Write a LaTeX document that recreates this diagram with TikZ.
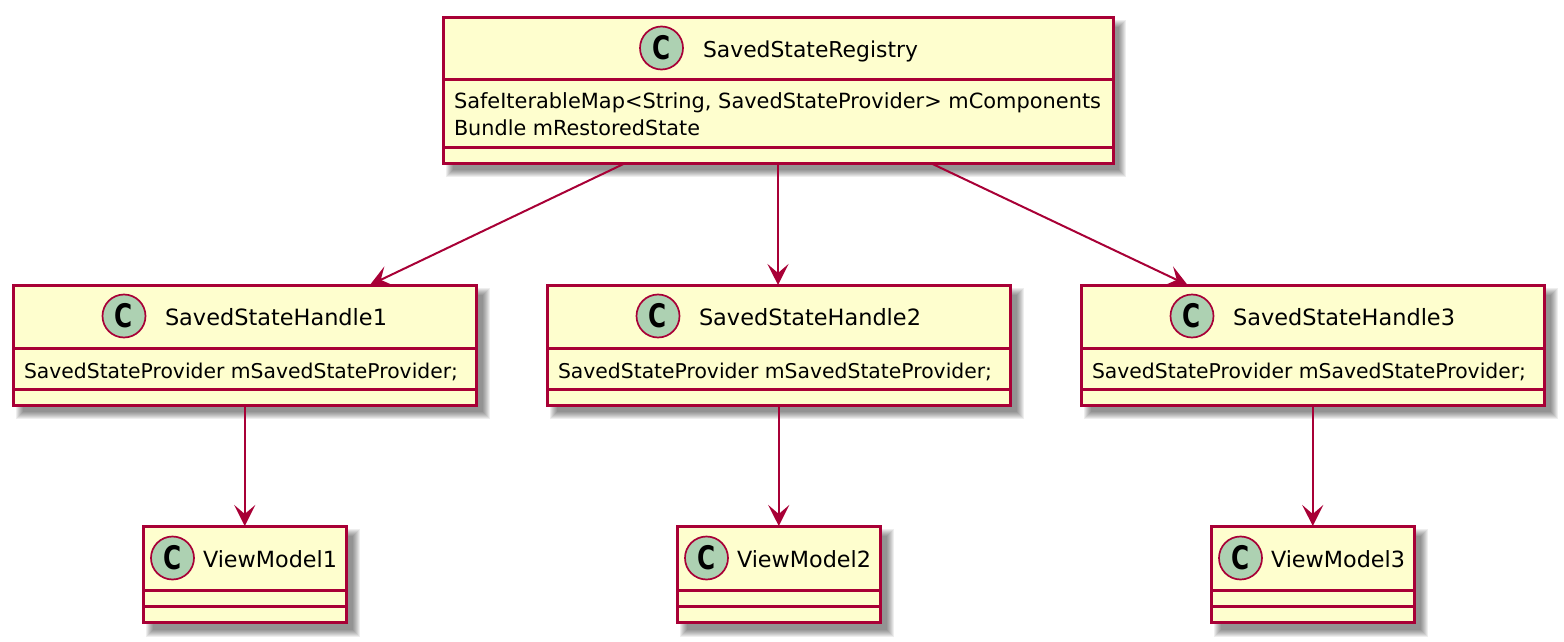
\documentclass[tikz,border=0pt]{standalone}
\usepackage{fontspec}
\setmainfont{DejaVu Sans}
\usetikzlibrary{arrows.meta,calc}
\definecolor{umlline}{HTML}{A80036}
\definecolor{umlfill}{HTML}{FEFECE}
\definecolor{umlspot}{HTML}{ADD1B2}
\newcommand{\umlshadow}[4]{%
  \foreach \g in {6,5,4,3,2,1,0,-1}{%
    \fill[black,opacity=0.065] (#1+9-\g,#2+9-\g) rectangle (#3+7+\g,#4+8+\g);
  }%
}
\newcommand{\umlbox}[5]{%
  \umlshadow{#2}{#3}{#4}{#5}
  \node[umlboxstyle,minimum width=#4-#2,minimum height=#5-#3] (#1) at ({(#2+#4)/2},{(#3+#5)/2}) {};
}
\newcommand{\fitw}[2]{\resizebox{#1pt}{!}{#2}}
\newcommand{\spotc}{\scalebox{0.85}[1.12]{C}}
\tikzset{
  x=1pt,y=-1pt,
  umlboxstyle/.style={draw=umlline,fill=umlfill,line width=3pt,inner sep=0pt,outer sep=0pt,rectangle},
  divider/.style={draw=umlline,line width=3pt},
  spot/.style={circle,draw=umlline,fill=umlspot,line width=1.7pt,minimum size=43pt,inner sep=0pt,font=\fontsize{29}{29}\selectfont\bfseries,text=black},
  label/.style={anchor=base west,inner sep=0pt,outer sep=0pt,font=\fontsize{20.5}{24}\selectfont,text=black},
  assoc/.style={draw=umlline,line width=2pt,-{Stealth[length=21pt,width=21pt,inset=9pt,fill=umlline]}}
}
\begin{document}
\begin{tikzpicture}
\useasboundingbox (0,0) rectangle (1564,642);
% boxes
\umlbox{reg}{443}{17.5}{1113}{163}
\umlbox{h1}{13}{285}{476.5}{405}
\umlbox{h2}{547}{285}{1010.5}{405}
\umlbox{h3}{1081}{285}{1544.5}{405}
\umlbox{v1}{143}{526}{346.5}{622.5}
\umlbox{v2}{677}{526}{880.5}{622.5}
\umlbox{v3}{1211}{526}{1414.5}{622.5}
% dividers
\draw[divider] (reg.west |- 0,80) -- (reg.east |- 0,80);
\draw[divider] (reg.west |- 0,147) -- (reg.east |- 0,147);
\foreach \n in {h1,h2,h3}{
  \draw[divider] (\n.west |- 0,348.5) -- (\n.east |- 0,348.5);
  \draw[divider] (\n.west |- 0,389) -- (\n.east |- 0,389);
}
\foreach \n in {v1,v2,v3}{
  \draw[divider] (\n.west |- 0,590) -- (\n.east |- 0,590);
  \draw[divider] (\n.west |- 0,606.5) -- (\n.east |- 0,606.5);
}
% spots
\node[spot] (sreg) at (661.5,48) {\spotc};
\node[spot] (sh1) at (124,316) {\spotc};
\node[spot] (sh2) at (658,316) {\spotc};
\node[spot] (sh3) at (1192,316) {\spotc};
\node[spot] (sv1) at (172.5,558) {\spotc};
\node[spot] (sv2) at (706.5,558) {\spotc};
\node[spot] (sv3) at (1240.5,558) {\spotc};
% labels
\node[label] (treg) at (703,57) {\fitw{215}{SavedStateRegistry}};
\node[label] (f1) at (454,108) {\fitw{647}{SafeIterableMap<String, SavedStateProvider> mComponents}};
\node[label] (f2) at (454,135) {\fitw{246}{Bundle mRestoredState}};
\node[label] (th1) at (165,325) {\fitw{222}{SavedStateHandle1}};
\node[label] (th2) at (699,325) {\fitw{222}{SavedStateHandle2}};
\node[label] (th3) at (1233,325) {\fitw{222}{SavedStateHandle3}};
\node[label] (p1) at (24,378) {\fitw{434}{SavedStateProvider mSavedStateProvider;}};
\node[label] (p2) at (558,378) {\fitw{434}{SavedStateProvider mSavedStateProvider;}};
\node[label] (p3) at (1092,378) {\fitw{434}{SavedStateProvider mSavedStateProvider;}};
\node[label] (tv1) at (203,567) {\fitw{134}{ViewModel1}};
\node[label] (tv2) at (737,567) {\fitw{134}{ViewModel2}};
\node[label] (tv3) at (1271,567) {\fitw{134}{ViewModel3}};
% connectors
\draw[assoc] ($(reg.south west)!0.2725!(reg.south east)$) -- ($(h1.north west)!0.77!(h1.north east)$);
\draw[assoc] (reg.south) -- (reg.south |- h2.north);
\draw[assoc] ($(reg.south west)!0.7275!(reg.south east)$) -- ($(h3.north west)!0.23!(h3.north east)$);
\draw[assoc] (h1.south) -- (h1.south |- v1.north);
\draw[assoc] (h2.south) -- (h2.south |- v2.north);
\draw[assoc] (h3.south) -- (h3.south |- v3.north);
\end{tikzpicture}
\end{document}
